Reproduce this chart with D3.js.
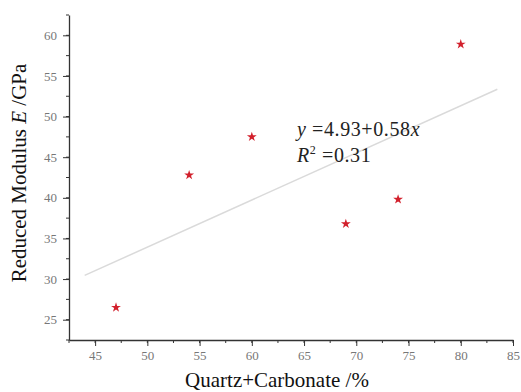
<!DOCTYPE html>
<html>
<head>
<meta charset="utf-8">
<script src="https://cdn.jsdelivr.net/npm/d3@7"></script>
<style>
  body { margin: 0; background: #fff; }
  text { font-family: "Liberation Serif", "Times New Roman", serif; }
</style>
</head>
<body>
<script>
// data
var quartzCarb = [47, 54, 60, 69, 74, 80];
var modulus = [26.5, 42.8, 47.5, 36.8, 39.8, 58.9];
var fitRange = [44, 83.5];
var fitCoef = [4.93, 0.58];
var xTicks = [45, 50, 55, 60, 65, 70, 75, 80, 85];
var yTicks = [25, 30, 35, 40, 45, 50, 55, 60];

var width = 521, height = 392;
var margin = {top: 15, right: 8, bottom: 52, left: 69};

var svg = d3.select("body").append("svg")
  .attr("width", width)
  .attr("height", height);

var x = d3.scaleLinear().domain([42.5, 85]).range([margin.left, width - margin.right]);
var y = d3.scaleLinear().domain([22.5, 62.5]).range([height - margin.bottom, margin.top]);

// minor ticks
var xMinor = d3.range(42.5, 85.01, 2.5);
var yMinor = d3.range(22.5, 62.51, 2.5);

var gx = svg.append("g")
  .attr("transform", "translate(0," + (height - margin.bottom) + ")");
gx.selectAll("line.minor").data(xMinor).enter().append("line")
  .attr("x1", function(d) { return x(d); }).attr("x2", function(d) { return x(d); })
  .attr("y1", 0).attr("y2", 3).attr("stroke", "#333");
gx.call(d3.axisBottom(x).tickValues(xTicks).tickSize(6).tickSizeOuter(0).tickPadding(5));

var gy = svg.append("g")
  .attr("transform", "translate(" + margin.left + ",0)");
gy.selectAll("line.minor").data(yMinor).enter().append("line")
  .attr("y1", function(d) { return y(d); }).attr("y2", function(d) { return y(d); })
  .attr("x1", 0).attr("x2", -3).attr("stroke", "#333");
gy.call(d3.axisLeft(y).tickValues(yTicks).tickSize(6).tickSizeOuter(0).tickPadding(6));

gx.attr("font-family", "Liberation Serif").attr("font-size", 13);
gy.attr("font-family", "Liberation Serif").attr("font-size", 13);
svg.selectAll(".domain").attr("stroke", "#333").attr("stroke-width", 1.3);
svg.selectAll(".tick line").attr("stroke", "#333");
svg.selectAll(".tick text").attr("fill", "#777");

// regression line
svg.append("line")
  .attr("x1", x(fitRange[0])).attr("y1", y(fitCoef[0] + fitCoef[1] * fitRange[0]))
  .attr("x2", x(fitRange[1])).attr("y2", y(fitCoef[0] + fitCoef[1] * fitRange[1]))
  .attr("stroke", "#dadada").attr("stroke-width", 1.5);

// points
var star = d3.symbol().type(d3.symbolStar).size(30);
svg.selectAll("path.pt").data(quartzCarb).enter().append("path")
  .attr("class", "pt")
  .attr("d", star)
  .attr("transform", function(d, i) { return "translate(" + x(d) + "," + y(modulus[i]) + ")"; })
  .attr("fill", "#d2202c");

// equation
var eq = svg.append("text").attr("x", 297).attr("y", 136).attr("font-size", 20)
  .attr("letter-spacing", 0.6).attr("fill", "#222");
eq.append("tspan").attr("font-style", "italic").text("y");
eq.append("tspan").text(" =4.93+0.58");
eq.append("tspan").attr("font-style", "italic").text("x");

var r2 = svg.append("text").attr("x", 297).attr("y", 162).attr("font-size", 20)
  .attr("letter-spacing", 0.6).attr("fill", "#222");
r2.append("tspan").attr("font-style", "italic").text("R");
r2.append("tspan").attr("font-size", 12).attr("dy", -8).text("2");
r2.append("tspan").attr("dy", 8).text(" =0.31");

// axis titles
svg.append("text")
  .attr("x", 277).attr("y", 387)
  .attr("text-anchor", "middle")
  .attr("font-size", 21)
  .attr("fill", "#111")
  .text("Quartz+Carbonate /%");

var yt = svg.append("text")
  .attr("transform", "translate(26," + 173 + ") rotate(-90)")
  .attr("text-anchor", "middle")
  .attr("font-size", 21)
  .attr("fill", "#111");
yt.append("tspan").text("Reduced Modulus ");
yt.append("tspan").attr("font-style", "italic").text("E");
yt.append("tspan").text(" /GPa");
</script>
</body>
</html>
